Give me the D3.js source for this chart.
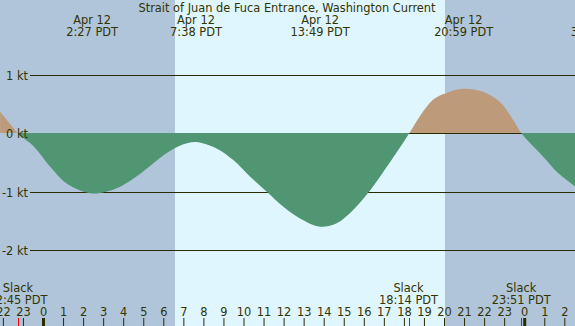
<!DOCTYPE html>
<html lang="en">
<head>
<meta charset="utf-8">
<title>Strait of Juan de Fuca Entrance, Washington Current</title>
<script src="https://cdn.jsdelivr.net/npm/d3@7"></script>
<style>
  body { margin: 0; background: #fff; }
  svg { display: block; font-family: "DejaVu Sans", sans-serif; }
  .lbl { fill: #333300; font-size: 11.4px; }
</style>
</head>
<body>
<script>
// hours after midnight Apr 12 (PDT) and current in knots
var hours  = [-2.14, -1.22, -0.48, 0.35, 1.18, 2.45, 3.68, 4.5, 5.34, 6.17, 7.0, 7.63, 8.66, 9.49, 10.32, 11.16, 11.99, 12.82, 13.82, 14.65, 15.48, 16.31, 17.14, 17.97, 18.25, 19.45, 20.3, 20.98, 21.95, 22.8, 23.44, 23.88, 24.89, 25.69, 26.55];
var speeds = [0.38, 0, -0.21, -0.56, -0.85, -1.02, -0.93, -0.77, -0.55, -0.33, -0.18, -0.14, -0.25, -0.45, -0.73, -0.99, -1.25, -1.45, -1.59, -1.53, -1.30, -0.97, -0.57, -0.15, 0, 0.58, 0.72, 0.77, 0.72, 0.54, 0.24, 0, -0.37, -0.67, -0.9];

// max/min events across the top
var eventHours = [2.45, 7.63, 13.82, 20.98, 27.62];
var eventDays  = ["Apr 12", "Apr 12", "Apr 12", "Apr 12", "Apr 13"];
var eventTimes = ["2:27 PDT", "7:38 PDT", "13:49 PDT", "20:59 PDT", "3:37 PDT"];

// slack waters
var slackHours = [-1.25, 18.23, 23.85];
var slackTimes = ["22:45 PDT", "18:14 PDT", "23:51 PDT"];

// daylight
var sunrise = 6.58, sunset = 20.05;

var ktTicks = [1, 0, -1, -2];
var hourTicks = d3.range(-2, 27);

var W = 575, H = 326;
var x = d3.scaleLinear().domain([0, 24]).range([43, 524.2]);
var y = d3.scaleLinear().domain([1, -2]).range([75.3, 250.7]);

var svg = d3.select('body').append('svg').attr('width', W).attr('height', H);

// night / day background
svg.append('rect').attr('x', 0).attr('y', 0).attr('width', W).attr('height', H).attr('fill', '#b0c4da');
svg.append('rect')
  .attr('x', x(sunrise)).attr('y', 0)
  .attr('width', x(sunset) - x(sunrise)).attr('height', H)
  .attr('fill', '#dff6fe');

// kt grid lines
var gy = function(v) { return Math.floor(y(v)) + 0.5; };
svg.append('g').selectAll('line').data(ktTicks).enter().append('line')
  .attr('x1', 30).attr('x2', W)
  .attr('y1', gy).attr('y2', gy)
  .attr('stroke', '#2b2b00').attr('stroke-width', 1);

// current curve, flood above zero / ebb below
var pts = hours.map(function(h, i) { return [h, speeds[i]]; });
var y0 = Math.floor(y(0));
var area = d3.area()
  .x(function(d) { return x(d[0]); })
  .y0(y0)
  .y1(function(d) { return y(d[1]); })
  .curve(d3.curveCatmullRom.alpha(0.5));

var defs = svg.append('defs');
defs.append('clipPath').attr('id', 'above')
  .append('rect').attr('x', 0).attr('y', 0).attr('width', W).attr('height', y0);
defs.append('clipPath').attr('id', 'below')
  .append('rect').attr('x', 0).attr('y', y0).attr('width', W).attr('height', H - y0);

svg.append('path').datum(pts).attr('d', area)
  .attr('fill', '#bd9b7a').attr('clip-path', 'url(#above)');
svg.append('path').datum(pts).attr('d', area)
  .attr('fill', '#519672').attr('clip-path', 'url(#below)');

svg.append('g').selectAll('text').data(ktTicks).enter().append('text')
  .attr('class', 'lbl')
  .attr('x', 28).attr('y', function(d) { return gy(d) + 4; })
  .attr('text-anchor', 'end')
  .text(function(d) { return d + ' kt'; });

// title
svg.append('text').attr('class', 'lbl')
  .attr('x', 287).attr('y', 12).attr('text-anchor', 'middle')
  .text('Strait of Juan de Fuca Entrance, Washington Current');

// event labels at top
var ev = svg.append('g').selectAll('g').data(eventHours).enter().append('g');
ev.append('text').attr('class', 'lbl')
  .attr('x', function(d) { return x(d); }).attr('y', 24)
  .attr('text-anchor', 'middle')
  .text(function(d, i) { return eventDays[i]; });
ev.append('text').attr('class', 'lbl')
  .attr('x', function(d) { return x(d); }).attr('y', 36)
  .attr('text-anchor', 'middle')
  .text(function(d, i) { return eventTimes[i]; });

// slack labels at bottom
var sl = svg.append('g').selectAll('g').data(slackHours).enter().append('g');
sl.append('text').attr('class', 'lbl')
  .attr('x', function(d) { return x(d); }).attr('y', 292)
  .attr('text-anchor', 'middle')
  .text('Slack');
sl.append('text').attr('class', 'lbl')
  .attr('x', function(d) { return x(d); }).attr('y', 304)
  .attr('text-anchor', 'middle')
  .text(function(d, i) { return slackTimes[i]; });

// hour axis along the bottom
var axis = d3.axisTop(x)
  .tickValues(hourTicks)
  .tickSize(8)
  .tickPadding(2.5)
  .tickFormat(function(h) { return ((h % 24) + 24) % 24; });
var ax = svg.append('g').attr('transform', 'translate(0,' + H + ')').call(axis);
ax.select('.domain').remove();
ax.selectAll('.tick line').attr('stroke', '#2b2b00')
  .attr('stroke-width', function(h) { return h % 24 === 0 ? 3 : 1; });
ax.selectAll('.tick text')
  .attr('fill', '#333300')
  .style('font-size', '11.4px')
  .style('font-family', '"DejaVu Sans", sans-serif');

// slack markers on the axis
svg.append('g').selectAll('line').data(slackHours).enter().append('line')
  .attr('x1', function(d) { return Math.round(x(d)) + 0.5; })
  .attr('x2', function(d) { return Math.round(x(d)) + 0.5; })
  .attr('y1', H - 8).attr('y2', H)
  .attr('stroke', '#ff0000').attr('stroke-width', 1);
</script>
</body>
</html>
